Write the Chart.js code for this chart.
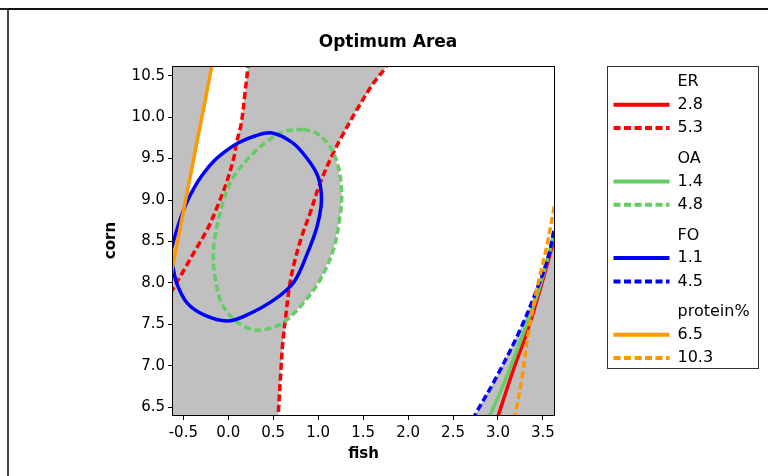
<!DOCTYPE html>
<html>
<head>
<meta charset="utf-8">
<title>Optimum Area</title>
<script src="https://cdn.jsdelivr.net/npm/chart.js@4.4.1/dist/chart.umd.min.js"></script>
<style>
  html, body { margin: 0; padding: 0; background: #fff; }
  #wrap { position: relative; width: 768px; height: 476px; overflow: hidden; }
  #frame { position: absolute; left: 7px; top: 8px; right: -2px; bottom: -2px; border-top: 2px solid #111; border-left: 2px solid #444; }
  #nub { position: absolute; left: 0; top: 8px; width: 8px; height: 2px; background: #222; }
</style>
</head>
<body>
<div id="wrap">
  <canvas id="chart" width="768" height="476"></canvas>
  <div id="frame"></div>
  <div id="nub"></div>
</div>
<script>
// axis ranges and tick labels
const xMin = -0.615, xMax = 3.623;
const yMin = 6.407, yMax = 10.617;
const xTicks = [-0.5, 0, 0.5, 1, 1.5, 2, 2.5, 3, 3.5];
const yTicks = [6.5, 7, 7.5, 8, 8.5, 9, 9.5, 10, 10.5];

// responses and contour levels (low = solid, high = dashed)
const responses = ['ER', 'OA', 'FO', 'protein%'];
const lowLevels = [2.8, 1.4, 1.1, 6.5];
const highLevels = [5.3, 4.8, 4.5, 10.3];

// contour lines, [fish, corn]
const erLow = [[2.99, 6.35], [3.003, 6.40], [3.17, 6.95], [3.319, 7.393], [3.467, 7.915], [3.623, 8.518], [3.64, 8.58]];
const erHighLeft = [[0.222, 10.68], [0.219, 10.617], [0.186, 10.291], [0.141, 9.905], [0.085, 9.67], [0.075, 9.568], [-0.014, 9.23],
  [-0.115, 8.94], [-0.226, 8.663], [-0.359, 8.409], [-0.493, 8.156], [-0.627, 7.903], [-0.66, 7.84]];
const erHighRight = [[1.78, 10.68], [1.743, 10.589], [1.613, 10.408], [1.428, 10.086], [1.261, 9.764], [1.16, 9.55], [1.02, 9.202],
  [0.909, 8.84], [0.816, 8.558], [0.742, 8.277], [0.686, 7.996], [0.635, 7.56], [0.605, 7.272], [0.583, 6.91], [0.556, 6.427], [0.552, 6.35]];
const oaLow = [[2.89, 6.35], [2.911, 6.40], [3.097, 6.869], [3.281, 7.393], [3.43, 7.834], [3.578, 8.397], [3.623, 8.598], [3.64, 8.66]];
const oaHigh = [[0.834, 9.853], [0.983, 9.805], [1.131, 9.644], [1.224, 9.402], [1.261, 9.081], [1.242, 8.799], [1.168, 8.397],
  [1.02, 8.035], [0.834, 7.755], [0.65, 7.553], [0.5, 7.465], [0.297, 7.432], [0.093, 7.533], [-0.073, 7.755], [-0.148, 8.075],
  [-0.167, 8.317], [-0.148, 8.558], [-0.073, 8.92], [0.038, 9.242], [0.241, 9.523], [0.427, 9.704], [0.612, 9.825], [0.834, 9.853]];
const foLow = [[-0.637, 8.398], [-0.615, 8.193], [-0.571, 7.988], [-0.459, 7.759], [-0.27, 7.614], [-0.014, 7.541], [0.208, 7.614],
  [0.508, 7.795], [0.731, 8.012], [0.886, 8.374], [0.986, 8.675], [1.031, 8.916], [1.031, 9.121], [0.986, 9.314], [0.864, 9.519],
  [0.71, 9.695], [0.486, 9.809], [0.297, 9.773], [0.108, 9.688], [-0.026, 9.592], [-0.159, 9.471], [-0.281, 9.314], [-0.382, 9.145],
  [-0.47, 8.952], [-0.537, 8.759], [-0.593, 8.566], [-0.637, 8.398]];
const foHigh = [[2.72, 6.35], [2.744, 6.407], [2.985, 6.869], [3.245, 7.432], [3.43, 7.915], [3.56, 8.317], [3.623, 8.637], [3.64, 8.7]];
const proLow = [[-0.64, 8.07], [-0.615, 8.217], [-0.482, 8.961], [-0.416, 9.323], [-0.344, 9.724], [-0.278, 10.086],
  [-0.185, 10.609], [-0.17, 10.7]];
const proHigh = [[3.18, 6.35], [3.189, 6.40], [3.263, 6.829], [3.337, 7.393], [3.43, 7.915], [3.542, 8.437], [3.615, 8.86], [3.63, 8.95]];

// shaded (outside the optimum) regions
const shadeMain = [[-0.7, 6.3], [-0.7, 10.7], [-0.17, 10.7], [-0.185, 10.609], [-0.278, 10.086], [-0.344, 9.724], [-0.416, 9.323],
  [-0.482, 8.961], [-0.5, 8.87], [-0.47, 8.952], [-0.382, 9.145], [-0.281, 9.314], [-0.159, 9.471], [-0.026, 9.592], [0.085, 9.67],
  [0.141, 9.905], [0.186, 10.291], [0.219, 10.617], [0.222, 10.7], [1.79, 10.7],
  [1.743, 10.589], [1.613, 10.408], [1.428, 10.086], [1.261, 9.764], [1.167, 9.55], [1.224, 9.402], [1.261, 9.081], [1.242, 8.799],
  [1.168, 8.397], [1.02, 8.035], [0.834, 7.755], [0.65, 7.553], [0.605, 7.272], [0.583, 6.91], [0.556, 6.427], [0.552, 6.3]];
const shadeCorner = [[2.72, 6.3], [2.744, 6.407], [2.985, 6.869], [3.245, 7.432], [3.43, 7.915], [3.56, 8.317], [3.623, 8.55],
  [3.7, 8.55], [3.7, 6.3]];

const colors = ['#ff0000', '#66cc66', '#0000ff', '#ff9900'];
const shadeColor = '#c0c0c0';
const dash = [7, 3.5];
const font = 'DejaVu Sans';

const toXY = arr => arr.map(([x, y]) => ({ x, y }));

function curve(points, color, dashed) {
  return {
    data: toXY(points),
    showLine: true,
    borderColor: color,
    borderWidth: 3.5,
    borderDash: dashed ? dash : [],
    pointRadius: 0,
    tension: 0.35,
    clip: 0,
    fill: false
  };
}

function shade(points) {
  return { data: toXY(points), polygon: true, fillColor: shadeColor, showLine: false, pointRadius: 0 };
}

// first dataset is drawn on top
const datasets = [
  curve(proLow, colors[3], false),
  curve(proHigh, colors[3], true),
  curve(foLow, colors[2], false),
  curve(foHigh, colors[2], true),
  curve(oaLow, colors[1], false),
  curve(oaHigh, colors[1], true),
  curve(erLow, colors[0], false),
  curve(erHighLeft, colors[0], true),
  curve(erHighRight, colors[0], true),
  shade(shadeMain),
  shade(shadeCorner)
];

// fills the shaded polygons using the points placed by the scales
const polygonFill = {
  id: 'polygonFill',
  beforeDatasetsDraw(chart) {
    const { ctx, chartArea: a } = chart;
    ctx.save();
    ctx.beginPath();
    ctx.rect(a.left, a.top, a.right - a.left, a.bottom - a.top);
    ctx.clip();
    chart.data.datasets.forEach((ds, i) => {
      if (!ds.polygon) return;
      const pts = chart.getDatasetMeta(i).data;
      ctx.beginPath();
      pts.forEach((p, j) => (j ? ctx.lineTo(p.x, p.y) : ctx.moveTo(p.x, p.y)));
      ctx.closePath();
      ctx.fillStyle = ds.fillColor;
      ctx.fill();
    });
    ctx.restore();
  }
};

const plotFrame = {
  id: 'plotFrame',
  afterDatasetsDraw(chart) {
    const { ctx, chartArea: a } = chart;
    ctx.save();
    ctx.strokeStyle = '#000';
    ctx.lineWidth = 1;
    ctx.strokeRect(Math.round(a.left) - 0.5, Math.round(a.top) + 0.5, Math.round(a.right - a.left) + 1, Math.round(a.bottom - a.top));
    ctx.restore();
  }
};

const contourLegend = {
  id: 'contourLegend',
  afterDraw(chart) {
    const { ctx, chartArea: a } = chart;
    const left = Math.round(a.right) + 53.5, top = Math.round(a.top) + 0.5;
    ctx.save();
    ctx.strokeStyle = '#333';
    ctx.lineWidth = 1;
    ctx.strokeRect(left, top, 151, 302);
    ctx.font = '16px "' + font + '"';
    ctx.textBaseline = 'middle';
    ctx.textAlign = 'left';
    responses.forEach((name, g) => {
      const y0 = top + 15.5 + g * 76.7;
      ctx.fillStyle = '#000';
      ctx.fillText(name, left + 70, y0);
      [lowLevels[g], highLevels[g]].forEach((lv, k) => {
        const y = y0 + 22.7 + k * 23.3;
        ctx.beginPath();
        ctx.setLineDash(k ? dash : []);
        ctx.strokeStyle = colors[g];
        ctx.lineWidth = 4;
        ctx.moveTo(left + 6, y);
        ctx.lineTo(left + 62, y);
        ctx.stroke();
        ctx.setLineDash([]);
        ctx.fillStyle = '#000';
        ctx.fillText(String(lv), left + 70, y);
      });
    });
    ctx.restore();
  }
};

const tickFont = { family: font, size: 15 };
const titleFont = { family: font, size: 15, weight: 'bold' };

new Chart(document.getElementById('chart'), {
  type: 'scatter',
  data: { datasets },
  options: {
    responsive: false,
    animation: false,
    events: [],
    layout: { padding: { left: 8, right: 0, top: 0, bottom: 0 } },
    elements: { line: { capBezierPoints: false } },
    plugins: {
      legend: { display: false },
      tooltip: { enabled: false },
      title: {
        display: true,
        text: 'Optimum Area',
        color: '#000',
        font: { family: font, size: 17, weight: 'bold' },
        padding: { top: 32, bottom: 13.6 }
      }
    },
    scales: {
      x: {
        type: 'linear',
        min: xMin,
        max: xMax,
        afterBuildTicks: s => { s.ticks = xTicks.map(v => ({ value: v })); },
        afterFit: s => { s.height = 61; },
        ticks: { callback: v => v.toFixed(1), color: '#000', font: tickFont, padding: 4, maxRotation: 0, autoSkip: false },
        grid: { drawOnChartArea: false, tickLength: 5, color: '#000' },
        border: { display: false },
        title: { display: true, text: 'fish', color: '#000', font: titleFont, padding: { top: 0, bottom: 13 } }
      },
      y: {
        type: 'linear',
        min: yMin,
        max: yMax,
        afterBuildTicks: s => { s.ticks = yTicks.map(v => ({ value: v })); },
        afterFit: s => { s.width = 165; },
        ticks: { callback: v => v.toFixed(1), color: '#000', font: tickFont, padding: 3, autoSkip: false },
        grid: { drawOnChartArea: false, tickLength: 5, color: '#000' },
        border: { display: false },
        title: { display: true, text: 'corn', color: '#000', font: titleFont, padding: { top: 94, bottom: 0 } }
      },
      y2: {
        type: 'linear',
        position: 'right',
        display: true,
        grid: { display: false },
        ticks: { display: false },
        border: { display: false },
        afterFit: s => { s.width = 214; }
      }
    }
  },
  plugins: [polygonFill, plotFrame, contourLegend]
});
</script>
</body>
</html>
